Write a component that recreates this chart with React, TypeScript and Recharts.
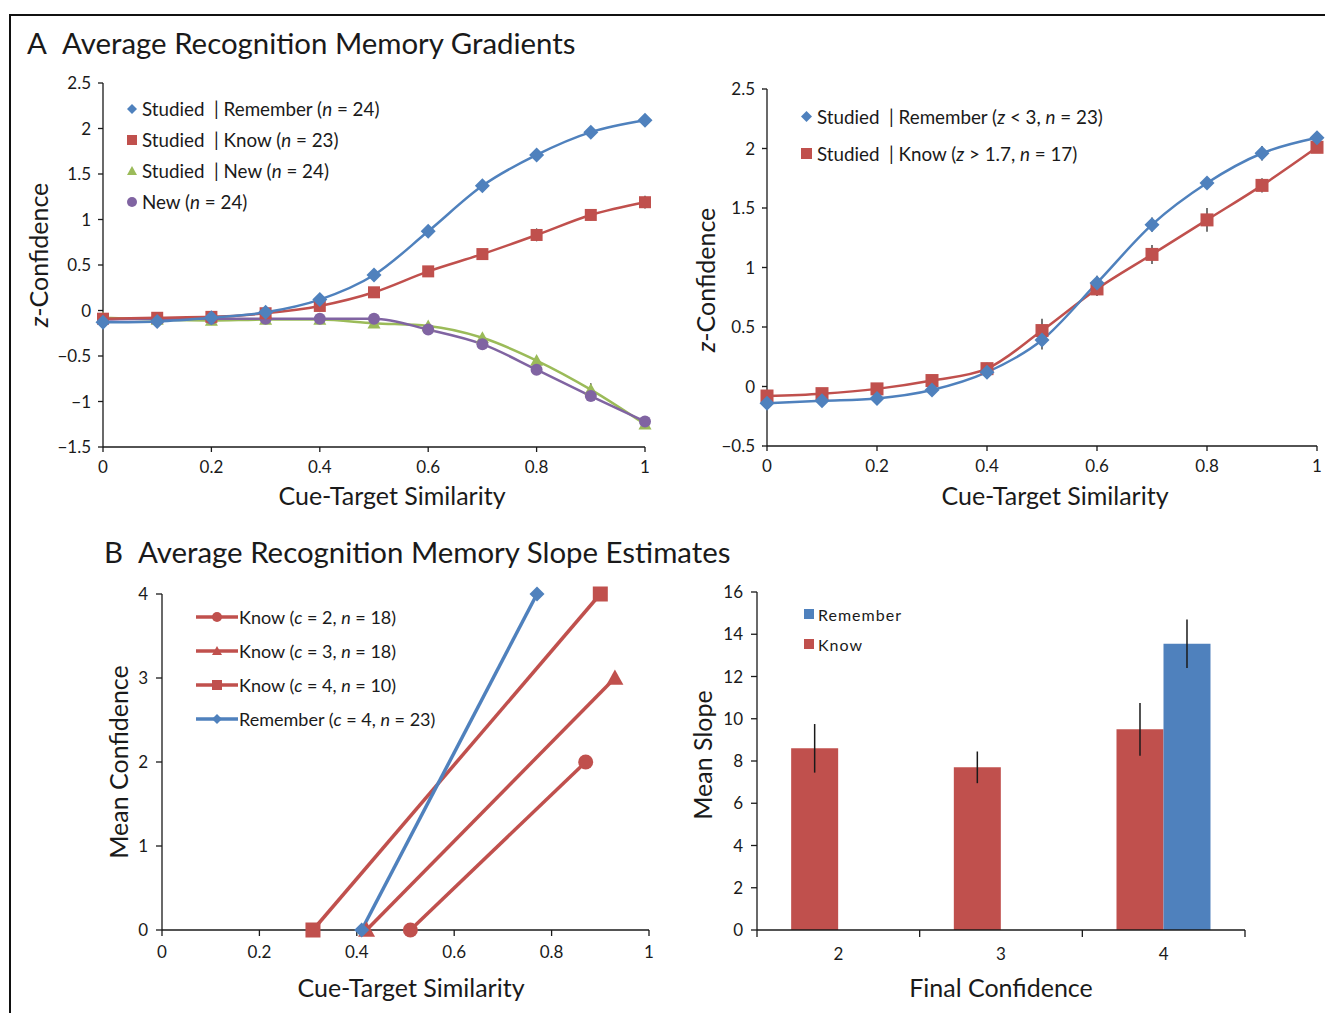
import React from 'react';
import { LineChart, Line, XAxis, YAxis, Legend, ErrorBar, BarChart, Bar } from 'recharts';

const FONT = 'Lato, "Open Sans", sans-serif';
const BLUE = '#4F81BD';
const RED = '#C0504D';
const GREEN = '#9BBB59';
const PURPLE = '#8064A2';
const INK = '#1a1a1a';

// ---- Panel A (left): gradients for all response types
const similarity = [0, 0.1, 0.2, 0.3, 0.4, 0.5, 0.6, 0.7, 0.8, 0.9, 1];
const aRemember = [-0.13, -0.12, -0.08, -0.02, 0.12, 0.39, 0.87, 1.37, 1.71, 1.96, 2.09];
const aRememberErr = [0.02, 0.02, 0.02, 0.02, 0.03, 0.04, 0.05, 0.05, 0.05, 0.05, 0.04];
const aKnow = [-0.09, -0.08, -0.07, -0.03, 0.05, 0.2, 0.43, 0.62, 0.83, 1.05, 1.19];
const aKnowErr = [0.02, 0.02, 0.02, 0.03, 0.03, 0.04, 0.05, 0.05, 0.07, 0.06, 0.07];
const aStudiedNew = [-0.08, -0.1, -0.11, -0.1, -0.1, -0.14, -0.17, -0.3, -0.55, -0.87, -1.25];
const aStudiedNewErr = [0.02, 0.02, 0.02, 0.02, 0.02, 0.03, 0.04, 0.05, 0.05, 0.07, 0.05];
const aNew = [-0.1, -0.09, -0.09, -0.09, -0.09, -0.09, -0.21, -0.37, -0.65, -0.94, -1.22];
const aNewErr = [0.02, 0.02, 0.02, 0.02, 0.02, 0.02, 0.03, 0.04, 0.04, 0.05, 0.05];

// ---- Panel A (right): matched subsets
const rRemember = [-0.14, -0.12, -0.1, -0.03, 0.12, 0.39, 0.87, 1.36, 1.71, 1.96, 2.09];
const rRememberErr = [0.02, 0.02, 0.02, 0.03, 0.04, 0.08, 0.06, 0.06, 0.05, 0.06, 0.04];
const rKnow = [-0.08, -0.06, -0.02, 0.05, 0.15, 0.47, 0.82, 1.11, 1.4, 1.69, 2.01];
const rKnowErr = [0.02, 0.02, 0.03, 0.03, 0.05, 0.1, 0.06, 0.08, 0.1, 0.06, 0.04];

// ---- Panel B (left): slope estimates
const knowC2X = [0.51, 0.87];
const knowC2Y = [0, 2];
const knowC3X = [0.42, 0.93];
const knowC3Y = [0, 3];
const knowC4X = [0.31, 0.9];
const knowC4Y = [0, 4];
const rememberC4X = [0.41, 0.77];
const rememberC4Y = [0, 4];

// ---- Panel B (right): mean slopes
const confidenceLevels = ['2', '3', '4'];
const knowSlope = [8.6, 7.7, 9.5];
const knowSlopeErr = [1.15, 0.75, 1.25];
const rememberSlope = [null, null, 13.55];
const rememberSlopeErr = [null, null, 1.15];

const simTicks = [0, 0.2, 0.4, 0.6, 0.8, 1];
const minus = (v: number) => (v < 0 ? '\u2212' + Math.abs(v) : String(v));

const gradientRows = similarity.map((x, i) => ({
  x,
  remember: aRemember[i], rememberErr: aRememberErr[i],
  know: aKnow[i], knowErr: aKnowErr[i],
  studiedNew: aStudiedNew[i], studiedNewErr: aStudiedNewErr[i],
  newItem: aNew[i], newItemErr: aNewErr[i],
}));

const subsetRows = similarity.map((x, i) => ({
  x,
  remember: rRemember[i], rememberErr: rRememberErr[i],
  know: rKnow[i], knowErr: rKnowErr[i],
}));

const toPts = (xs: number[], ys: number[]) => xs.map((x, i) => ({ x, y: ys[i] }));

const slopeSeries = [
  { name: 'Know (c = 2, n = 18)', shape: 'circle', color: RED, data: toPts(knowC2X, knowC2Y) },
  { name: 'Know (c = 3, n = 18)', shape: 'triangle', color: RED, data: toPts(knowC3X, knowC3Y) },
  { name: 'Know (c = 4, n = 10)', shape: 'square', color: RED, data: toPts(knowC4X, knowC4Y) },
  { name: 'Remember (c = 4, n = 23)', shape: 'diamond', color: BLUE, data: toPts(rememberC4X, rememberC4Y) },
];

const slopeRows = confidenceLevels.map((c, i) => ({
  c,
  know: knowSlope[i], knowErr: knowSlopeErr[i],
  remember: rememberSlope[i], rememberErr: rememberSlopeErr[i],
}));

// italicise the single-letter variables (n, z, c) in legend labels
function fmt(s: string) {
  const parts = s.split(/(\b[nzc]\b(?=\s*[=<>]))/);
  return parts.map((p, i) => (i % 2 === 1 ? <i key={i}>{p}</i> : <span key={i}>{p}</span>));
}

function Marker({ cx, cy, shape, size, color }: any) {
  const h = size / 2;
  if (cx == null || cy == null) return null;
  if (shape === 'diamond')
    return <polygon points={`${cx},${cy - h} ${cx + h},${cy} ${cx},${cy + h} ${cx - h},${cy}`} fill={color} />;
  if (shape === 'square') return <rect x={cx - h} y={cy - h} width={size} height={size} fill={color} />;
  if (shape === 'triangle')
    return <polygon points={`${cx},${cy - h} ${cx + h},${cy + h * 0.8} ${cx - h},${cy + h * 0.8}`} fill={color} />;
  return <circle cx={cx} cy={cy} r={h} fill={color} />;
}

const dotOf = (shape: string, size: number, color: string) => (p: any) =>
  <Marker key={`m-${p.index}`} cx={p.cx} cy={p.cy} shape={shape} size={size} color={color} />;

// axis titles get their own coordinates (lx, ly) so recharts' injected props don't move them
function XTitle({ lx, ly, text }: any) {
  return (
    <text x={lx} y={ly} textAnchor="middle" dominantBaseline="central" fontSize={25} fill={INK} fontFamily={FONT}>
      {text}
    </text>
  );
}

function YTitle({ lx, ly, text, italicZ }: any) {
  return (
    <text x={lx} y={ly} transform={`rotate(-90 ${lx} ${ly})`} textAnchor="middle" dominantBaseline="central"
      fontSize={25} fill={INK} fontFamily={FONT}>
      {italicZ && <tspan fontStyle="italic">z</tspan>}
      {text}
    </text>
  );
}

function SymbolLegend({ items, rowHeight, fontSize, markerSize, gap, withLine, letterSpacing }: any) {
  return (
    <div style={{ fontFamily: FONT, fontSize, color: INK, letterSpacing }}>
      {items.map((it: any) => (
        <div key={it.name} style={{ display: 'flex', alignItems: 'center', height: rowHeight, whiteSpace: 'pre' }}>
          {withLine ? (
            <svg width={42} height={16} style={{ marginRight: gap }}>
              <line x1={0} x2={42} y1={8} y2={8} stroke={it.color} strokeWidth={3.5} />
              <Marker cx={21} cy={8} shape={it.shape} size={markerSize} color={it.color} />
            </svg>
          ) : (
            <svg width={markerSize + 2} height={markerSize + 2} style={{ marginRight: gap }}>
              <Marker cx={(markerSize + 2) / 2} cy={(markerSize + 2) / 2} shape={it.shape} size={markerSize} color={it.color} />
            </svg>
          )}
          <span>{fmt(it.name)}</span>
        </div>
      ))}
    </div>
  );
}

const tickStyle = { fill: INK, fontSize: 17, fontFamily: FONT };
const axisStroke = { stroke: INK, strokeWidth: 1.3 };

function BarTick({ x, y, payload, index, visibleTicksCount }: any) {
  const off = payload?.offset ?? 0;
  const y0 = y - 18;
  return (
    <g>
      <line x1={x - off} x2={x - off} y1={y0} y2={y0 + 7} stroke={INK} strokeWidth={1.3} />
      {index === visibleTicksCount - 1 && (
        <line x1={x + off} x2={x + off} y1={y0} y2={y0 + 7} stroke={INK} strokeWidth={1.3} />
      )}
      <text x={x} y={y} dy="0.71em" textAnchor="middle" {...tickStyle}>{payload.value}</text>
    </g>
  );
}

const gradientLegend = [
  { name: 'Studied  | Remember (n = 24)', shape: 'diamond', color: BLUE },
  { name: 'Studied  | Know (n = 23)', shape: 'square', color: RED },
  { name: 'Studied  | New (n = 24)', shape: 'triangle', color: GREEN },
  { name: 'New (n = 24)', shape: 'circle', color: PURPLE },
];

const subsetLegend = [
  { name: 'Studied  | Remember (z < 3, n = 23)', shape: 'diamond', color: BLUE },
  { name: 'Studied  | Know (z > 1.7, n = 17)', shape: 'square', color: RED },
];

const slopeLegend = [
  { name: 'Remember', shape: 'square', color: BLUE },
  { name: 'Know', shape: 'square', color: RED },
];

export default function App() {
  return (
    <div style={{ position: 'absolute', left: 0, top: 0, width: 1325, height: 1013, background: '#fff', overflow: 'hidden', fontFamily: FONT, color: INK }}>
      <div style={{ position: 'absolute', left: 9, top: 14, width: 1330, height: 1010, borderTop: '2px solid #111', borderLeft: '2px solid #111' }} />

      <div style={{ position: 'absolute', left: 27, top: 25, fontSize: 29.4, whiteSpace: 'nowrap' }}>A</div>
      <div style={{ position: 'absolute', left: 62, top: 25, fontSize: 29.4, whiteSpace: 'nowrap' }}>Average Recognition Memory Gradients</div>
      <div style={{ position: 'absolute', left: 104, top: 534, fontSize: 29.4, whiteSpace: 'nowrap' }}>B</div>
      <div style={{ position: 'absolute', left: 138, top: 534, fontSize: 29.4, whiteSpace: 'nowrap' }}>Average Recognition Memory Slope Estimates</div>

      {/* A left */}
      <div style={{ position: 'absolute', left: 0, top: 60 }}>
        <LineChart width={660} height={460} data={gradientRows} margin={{ top: 23, right: 15, bottom: 13, left: 10 }}>
          <XAxis dataKey="x" type="number" domain={[0, 1]} ticks={simTicks} height={60}
            tick={tickStyle} tickSize={5} tickMargin={9} axisLine={axisStroke} tickLine={axisStroke}
            label={<XTitle lx={392} ly={435} text="Cue-Target Similarity" />} />
          <YAxis type="number" domain={[-1.5, 2.5]} ticks={[-1.5, -1, -0.5, 0, 0.5, 1, 1.5, 2, 2.5]} width={93}
            tickFormatter={minus} tick={tickStyle} tickSize={5} tickMargin={7} axisLine={axisStroke} tickLine={axisStroke}
            label={<YTitle lx={38} ly={195} text="-Confidence" italicZ />} />
          <Legend layout="vertical" align="center" verticalAlign="middle"
            wrapperStyle={{ left: 126, top: 33, width: 'auto', height: 'auto' }}
            content={() => <SymbolLegend items={gradientLegend} rowHeight={31} fontSize={18.8} markerSize={10} gap={4} />} />
          <Line dataKey="studiedNew" type="monotone" stroke={GREEN} strokeWidth={2.5} isAnimationActive={false}
            dot={dotOf('triangle', 13, GREEN)} activeDot={false}>
            <ErrorBar dataKey="studiedNewErr" direction="y" width={0} stroke={INK} strokeWidth={1.2} />
          </Line>
          <Line dataKey="newItem" type="monotone" stroke={PURPLE} strokeWidth={2.5} isAnimationActive={false}
            dot={dotOf('circle', 12, PURPLE)} activeDot={false}>
            <ErrorBar dataKey="newItemErr" direction="y" width={0} stroke={INK} strokeWidth={1.2} />
          </Line>
          <Line dataKey="know" type="monotone" stroke={RED} strokeWidth={2.5} isAnimationActive={false}
            dot={dotOf('square', 12, RED)} activeDot={false}>
            <ErrorBar dataKey="knowErr" direction="y" width={0} stroke={INK} strokeWidth={1.2} />
          </Line>
          <Line dataKey="remember" type="monotone" stroke={BLUE} strokeWidth={2.5} isAnimationActive={false}
            dot={dotOf('diamond', 15, BLUE)} activeDot={false}>
            <ErrorBar dataKey="rememberErr" direction="y" width={0} stroke={INK} strokeWidth={1.2} />
          </Line>
        </LineChart>
      </div>

      {/* A right */}
      <div style={{ position: 'absolute', left: 680, top: 60 }}>
        <LineChart width={645} height={460} data={subsetRows} margin={{ top: 29, right: 8, bottom: 14, left: 10 }}>
          <XAxis dataKey="x" type="number" domain={[0, 1]} ticks={simTicks} height={60}
            tick={tickStyle} tickSize={5} tickMargin={9} axisLine={axisStroke} tickLine={axisStroke}
            label={<XTitle lx={375} ly={435} text="Cue-Target Similarity" />} />
          <YAxis type="number" domain={[-0.5, 2.5]} ticks={[-0.5, 0, 0.5, 1, 1.5, 2, 2.5]} width={77}
            tickFormatter={minus} tick={tickStyle} tickSize={5} tickMargin={7} axisLine={axisStroke} tickLine={axisStroke}
            label={<YTitle lx={25} ly={220} text="-Confidence" italicZ />} />
          <Legend layout="vertical" align="center" verticalAlign="middle"
            wrapperStyle={{ left: 120, top: 38, width: 'auto', height: 'auto' }}
            content={() => <SymbolLegend items={subsetLegend} rowHeight={37} fontSize={18.8} markerSize={11} gap={4} />} />
          <Line dataKey="know" type="monotone" stroke={RED} strokeWidth={2.5} isAnimationActive={false}
            dot={dotOf('square', 13, RED)} activeDot={false}>
            <ErrorBar dataKey="knowErr" direction="y" width={0} stroke={INK} strokeWidth={1.2} />
          </Line>
          <Line dataKey="remember" type="monotone" stroke={BLUE} strokeWidth={2.5} isAnimationActive={false}
            dot={dotOf('diamond', 15, BLUE)} activeDot={false}>
            <ErrorBar dataKey="rememberErr" direction="y" width={0} stroke={INK} strokeWidth={1.2} />
          </Line>
        </LineChart>
      </div>

      {/* B left */}
      <div style={{ position: 'absolute', left: 90, top: 570 }}>
        <LineChart width={580} height={440} margin={{ top: 24, right: 21, bottom: 18, left: 10 }}>
          <XAxis dataKey="x" type="number" domain={[0, 1]} ticks={simTicks} height={62}
            tick={tickStyle} tickSize={6} tickMargin={10} axisLine={axisStroke} tickLine={axisStroke}
            label={<XTitle lx={321} ly={417} text="Cue-Target Similarity" />} />
          <YAxis type="number" domain={[0, 4]} ticks={[0, 1, 2, 3, 4]} width={62}
            tick={tickStyle} tickSize={6} tickMargin={8} axisLine={axisStroke} tickLine={axisStroke}
            label={<YTitle lx={28} ly={192} text="Mean Confidence" />} />
          <Legend layout="vertical" align="center" verticalAlign="middle"
            wrapperStyle={{ left: 106, top: 30, width: 'auto', height: 'auto' }}
            content={() => <SymbolLegend items={slopeSeries} rowHeight={34} fontSize={18} markerSize={10} gap={1} withLine />} />
          {slopeSeries.map((s) => (
            <Line key={s.name} data={s.data} dataKey="y" type="linear" stroke={s.color} strokeWidth={3.5}
              isAnimationActive={false} dot={dotOf(s.shape, s.shape === 'triangle' ? 17 : 15, s.color)} activeDot={false} />
          ))}
        </LineChart>
      </div>

      {/* B right */}
      <div style={{ position: 'absolute', left: 680, top: 570 }}>
        <BarChart width={645} height={440} data={slopeRows} barGap={0} barCategoryGap="21%"
          margin={{ top: 22, right: 80, bottom: 18, left: 10 }}>
          <XAxis dataKey="c" height={62} tickLine={false} tickSize={6} tickMargin={12} axisLine={axisStroke}
            tick={<BarTick />}
            label={<XTitle lx={321} ly={417} text="Final Confidence" />} />
          <YAxis type="number" domain={[0, 16]} ticks={[0, 2, 4, 6, 8, 10, 12, 14, 16]} width={67}
            tick={tickStyle} tickSize={6} tickMargin={8} axisLine={axisStroke} tickLine={axisStroke}
            label={<YTitle lx={22} ly={185} text="Mean Slope" />} />
          <Legend layout="vertical" align="center" verticalAlign="middle"
            wrapperStyle={{ left: 123, top: 29, width: 'auto', height: 'auto' }}
            content={() => <SymbolLegend items={slopeLegend} rowHeight={30} fontSize={16} markerSize={10} gap={3} letterSpacing={1} />} />
          <Bar dataKey="know" fill={RED} isAnimationActive={false}>
            <ErrorBar dataKey="knowErr" width={0} stroke={INK} strokeWidth={1.5} />
          </Bar>
          <Bar dataKey="remember" fill={BLUE} isAnimationActive={false}>
            <ErrorBar dataKey="rememberErr" width={0} stroke={INK} strokeWidth={1.5} />
          </Bar>
        </BarChart>
      </div>
    </div>
  );
}
